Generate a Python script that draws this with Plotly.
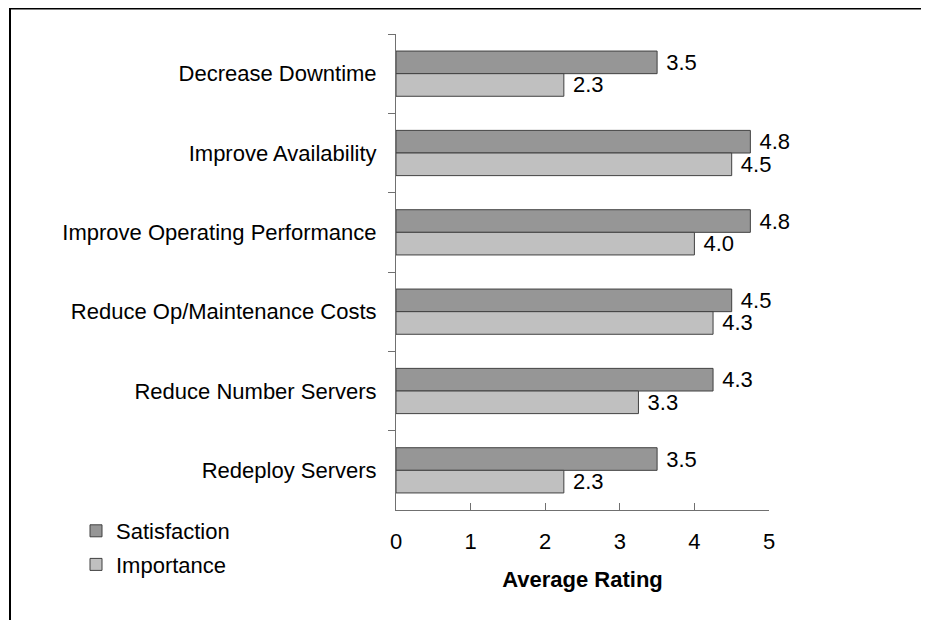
import plotly.graph_objects as go

categories = ["Decrease Downtime", "Improve Availability", "Improve Operating Performance",
              "Reduce Op/Maintenance Costs", "Reduce Number Servers", "Redeploy Servers"]
satisfaction = [3.5, 4.75, 4.75, 4.5, 4.25, 3.5]
importance = [2.25, 4.5, 4.0, 4.25, 3.25, 2.25]
x_ticks = [0, 1, 2, 3, 4, 5]

# page body has an 8px margin, so the figure is 8px smaller than the window
W, H = 921, 612
ML, MR, MT, MB = 388, 160, 26, 110
FONT = dict(family="Liberation Sans, Arial, sans-serif", size=22, color="#000000")
AX = "#707070"

fig = go.Figure()
fig.add_trace(go.Bar(
    y=categories, x=satisfaction, orientation="h", name="Satisfaction",
    marker=dict(color="#969696", line=dict(color="#404040", width=1)),
    texttemplate="\u00a0%{x:.1f}", textposition="outside", constraintext="none",
    cliponaxis=False, textfont=FONT, legendgroup="a",
))
fig.add_trace(go.Bar(
    y=categories, x=importance, orientation="h", name="Importance",
    marker=dict(color="#c0c0c0", line=dict(color="#404040", width=1)),
    texttemplate="\u00a0%{x:.1f}", textposition="outside", constraintext="none",
    cliponaxis=False, textfont=FONT, legendgroup="b",
))

pw = W - ML - MR
ph = H - MT - MB
def px_x(p):
    return (p - ML) / pw
def px_y(p):
    return (H - MB - p) / ph

fig.update_layout(
    width=W, height=H,
    margin=dict(l=ML, r=MR, t=MT, b=MB, pad=0),
    paper_bgcolor="white", plot_bgcolor="white",
    font=FONT,
    barmode="group", bargap=0.43, bargroupgap=0,
    showlegend=True,
    legend=dict(x=px_x(68), y=px_y(502), xanchor="left", yanchor="top",
                traceorder="grouped", tracegroupgap=2, itemwidth=30,
                font=FONT, bgcolor="rgba(0,0,0,0)"),
    xaxis=dict(range=[0, 5], tickvals=x_ticks, ticks="inside", ticklen=7,
               tickcolor=AX, showline=True, linecolor=AX, linewidth=1,
               showgrid=False, zeroline=False, ticklabelstandoff=12,
               title=dict(text="<b>Average Rating</b>", font=FONT, standoff=18)),
    xaxis2=dict(range=[0, 5], tickvals=x_ticks, ticks="outside", ticklen=5,
                tickcolor=AX, overlaying="x", side="bottom", anchor="y",
                showticklabels=False, showgrid=False, zeroline=False, showline=False),
    yaxis=dict(autorange="reversed", type="category", ticks="outside", ticklen=7,
               tickson="boundaries", tickcolor=AX, showline=True, linecolor=AX,
               linewidth=1, showgrid=False, zeroline=False, ticklabelstandoff=14),
    yaxis2=dict(range=[6, 0], tickvals=list(range(7)), ticks="inside", ticklen=5,
                tickcolor=AX, overlaying="y", side="left", anchor="x",
                showticklabels=False, showgrid=False, zeroline=False, showline=False),
    shapes=[
        dict(type="line", xref="paper", yref="paper", x0=px_x(1), x1=px_x(W + 2),
             y0=px_y(0), y1=px_y(0), line=dict(color="#000000", width=3)),
        dict(type="line", xref="paper", yref="paper", x0=px_x(2), x1=px_x(2),
             y0=px_y(0), y1=px_y(H + 2), line=dict(color="#000000", width=2)),
    ],
)

fig.write_html("out.html")
